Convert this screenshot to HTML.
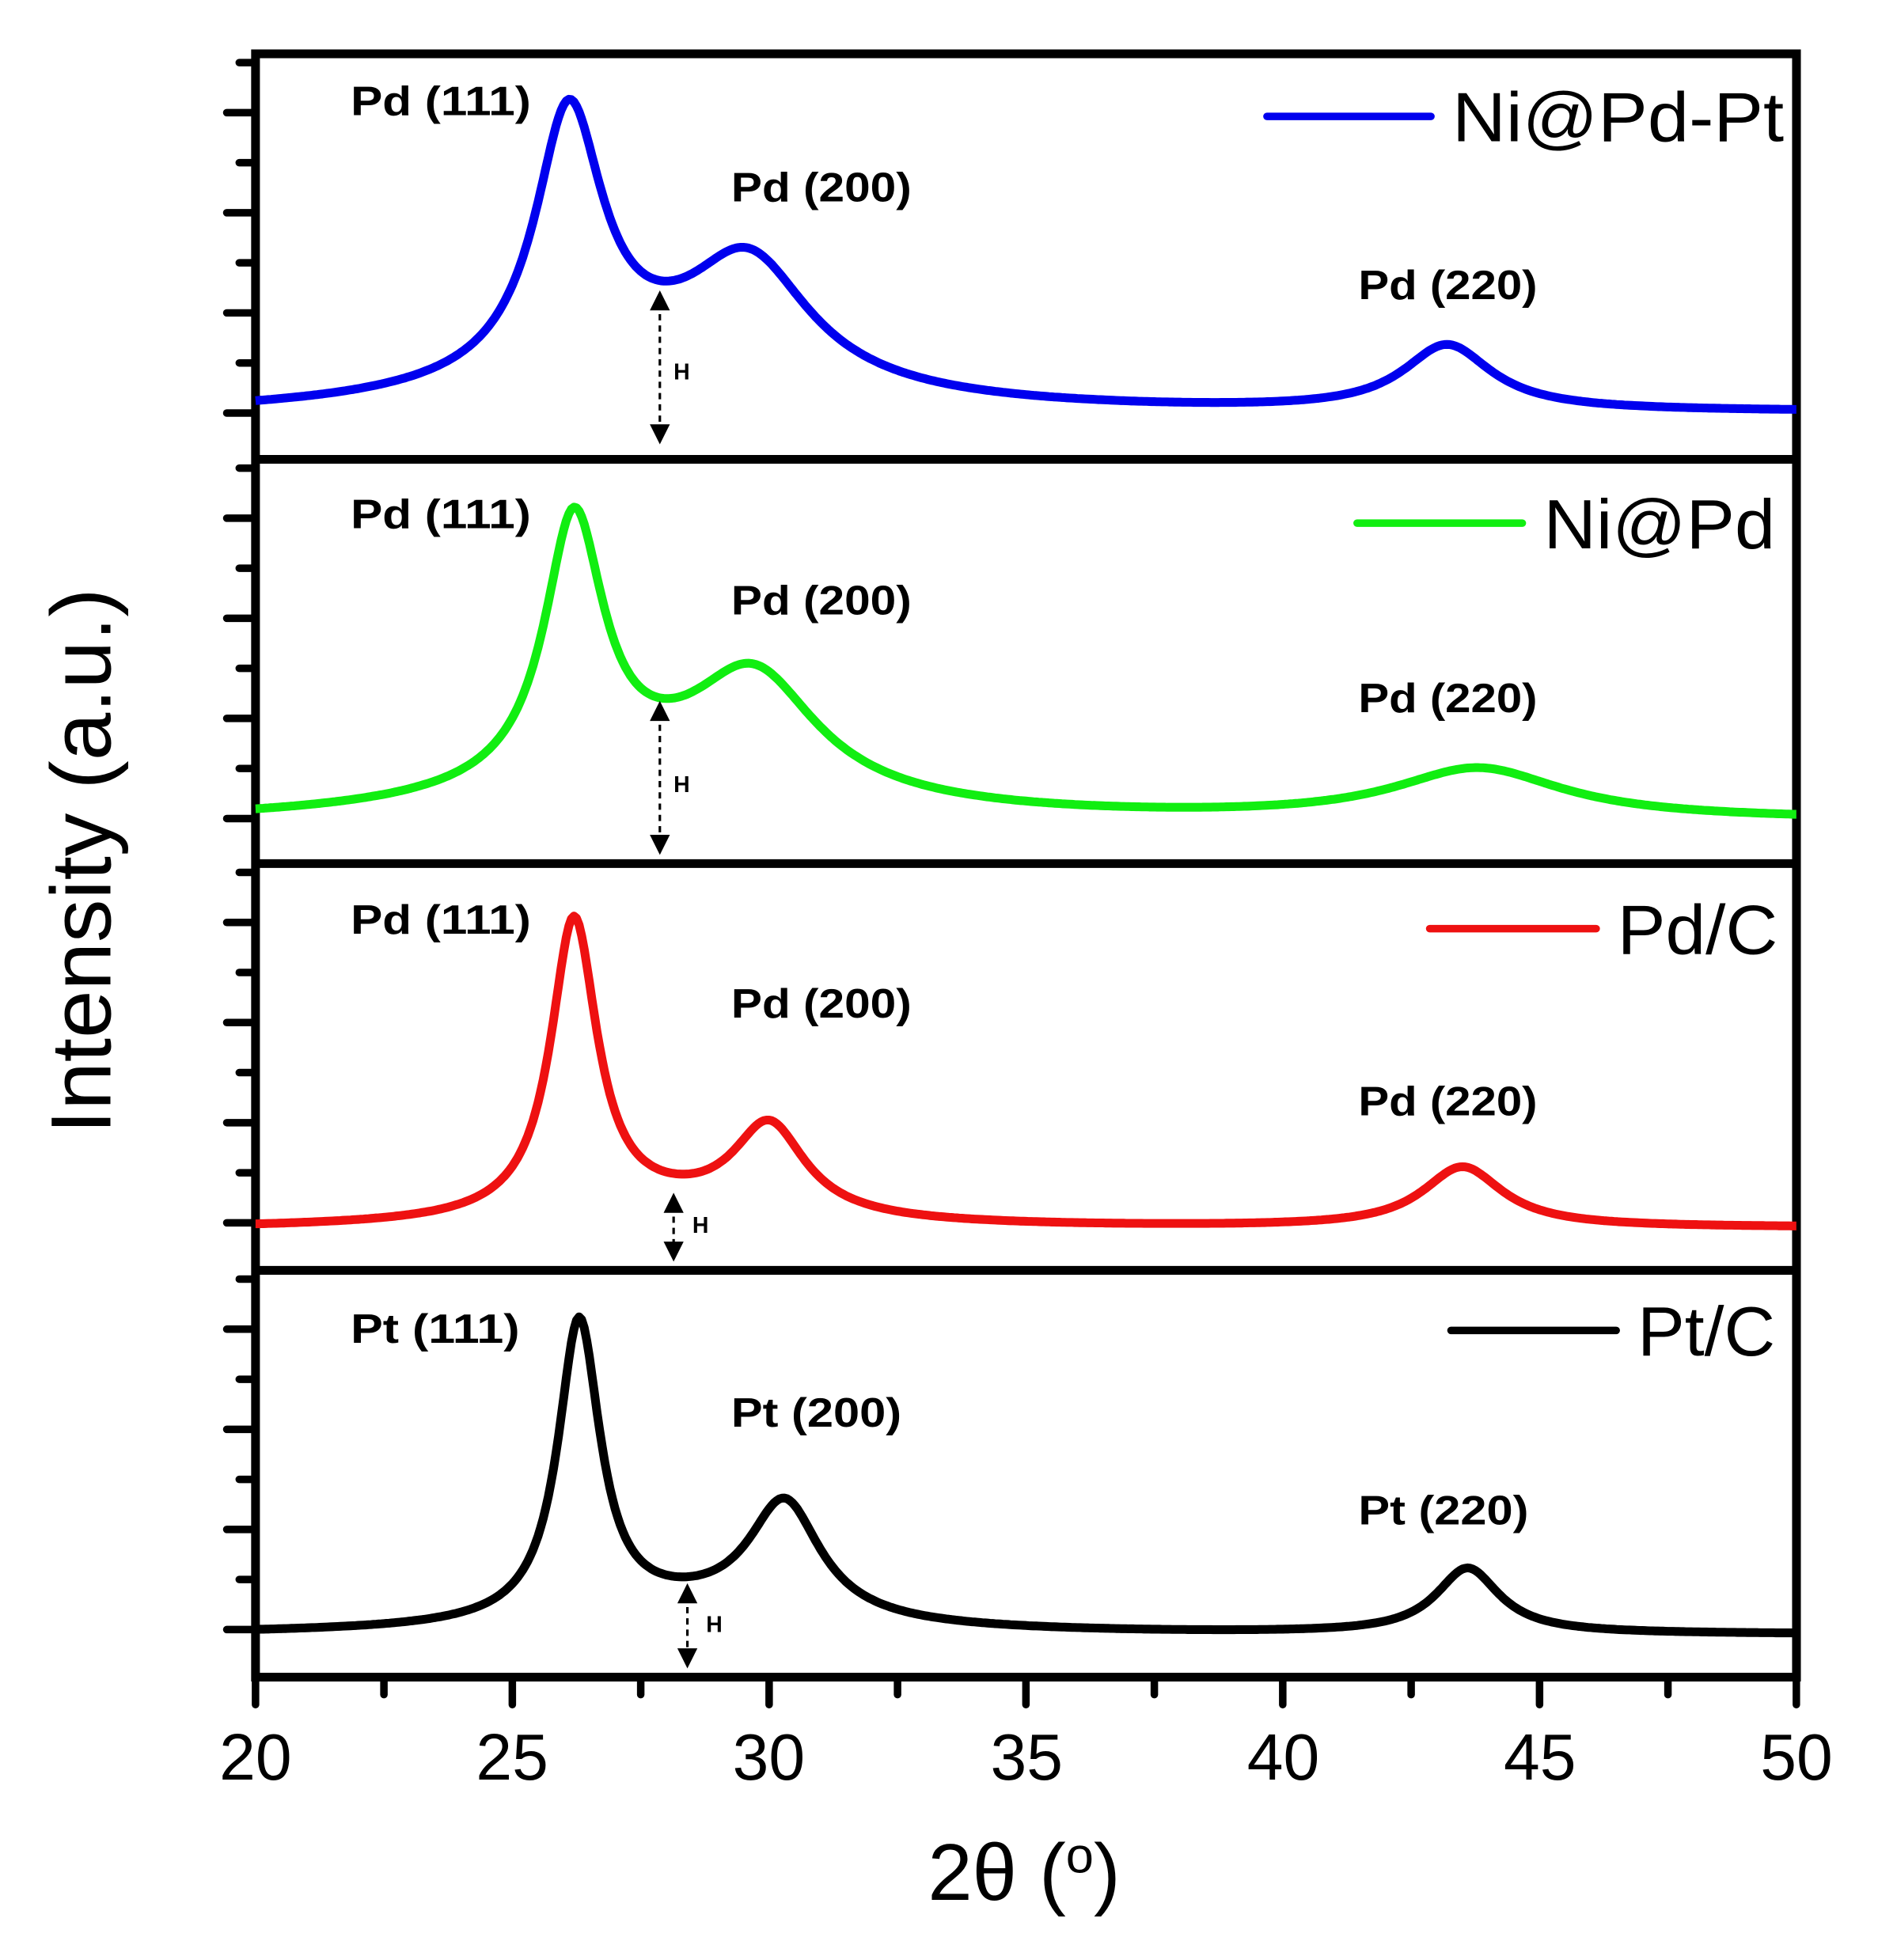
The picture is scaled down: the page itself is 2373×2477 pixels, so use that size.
<!DOCTYPE html>
<html><head><meta charset="utf-8"><style>
html,body{margin:0;padding:0;background:#fff;}
svg{display:block;}
</style></head><body>
<svg id="s" width="2373" height="2477" viewBox="0 0 1500 1566" xmlns="http://www.w3.org/2000/svg">
<rect width="1500" height="1566" fill="#fff"/>
<g id="frames" fill="none" stroke="#000" stroke-width="7">
<rect x="204" y="43" width="1231" height="1297"/>
<line x1="204" y1="367" x2="1435" y2="367"/>
<line x1="204" y1="690" x2="1435" y2="690"/>
<line x1="204" y1="1015" x2="1435" y2="1015"/>
</g>
<g id="ticks" stroke="#000" stroke-width="6" stroke-linecap="round"></g>
<g id="curves" fill="none" stroke-width="7" stroke-linejoin="round"></g>
<g font-family="'Liberation Sans','DejaVu Sans',sans-serif" font-weight="bold" font-size="33" fill="#000">
<text x="280" y="92" textLength="144" lengthAdjust="spacingAndGlyphs">Pd (111)</text>
<text x="584" y="161" textLength="144" lengthAdjust="spacingAndGlyphs">Pd (200)</text>
<text x="1085" y="239" textLength="143" lengthAdjust="spacingAndGlyphs">Pd (220)</text>
<text x="280" y="422" textLength="144" lengthAdjust="spacingAndGlyphs">Pd (111)</text>
<text x="584" y="491" textLength="144" lengthAdjust="spacingAndGlyphs">Pd (200)</text>
<text x="1085" y="569" textLength="143" lengthAdjust="spacingAndGlyphs">Pd (220)</text>
<text x="280" y="746" textLength="144" lengthAdjust="spacingAndGlyphs">Pd (111)</text>
<text x="584" y="813" textLength="144" lengthAdjust="spacingAndGlyphs">Pd (200)</text>
<text x="1085" y="891" textLength="143" lengthAdjust="spacingAndGlyphs">Pd (220)</text>
<text x="280" y="1073" textLength="135" lengthAdjust="spacingAndGlyphs">Pt (111)</text>
<text x="584" y="1140" textLength="136" lengthAdjust="spacingAndGlyphs">Pt (200)</text>
<text x="1085" y="1218" textLength="136" lengthAdjust="spacingAndGlyphs">Pt (220)</text>
<g font-size="18"><text x="538" y="303">H</text><text x="538" y="633">H</text><text x="553" y="985">H</text><text x="564" y="1304">H</text></g>
</g>
<g stroke-width="6" stroke-linecap="round">
<line x1="1012" y1="93" x2="1143" y2="93" stroke="#0000ee"/>
<line x1="1084" y1="418" x2="1216" y2="418" stroke="#11ee11"/>
<line x1="1142" y1="742" x2="1275" y2="742" stroke="#ee1111"/>
<line x1="1159" y1="1063" x2="1291" y2="1063" stroke="#000"/>
</g>
<g font-family="'Liberation Sans',sans-serif" font-size="56" fill="#000">
<text x="1160" y="113" textLength="265" lengthAdjust="spacingAndGlyphs">Ni@Pd-Pt</text>
<text x="1233" y="438" textLength="185" lengthAdjust="spacingAndGlyphs">Ni@Pd</text>
<text x="1292" y="762" textLength="128" lengthAdjust="spacingAndGlyphs">Pd/C</text>
<text x="1308" y="1083" textLength="110" lengthAdjust="spacingAndGlyphs">Pt/C</text>
</g>
<g id="arrows" stroke="#000" stroke-width="2" stroke-dasharray="5,4" fill="#000"></g>
<g font-family="'Liberation Sans',sans-serif" font-size="52" fill="#000" text-anchor="middle">
<text x="204" y="1422">20</text><text x="409" y="1422">25</text><text x="614" y="1422">30</text>
<text x="820" y="1422">35</text><text x="1025" y="1422">40</text><text x="1230" y="1422">45</text><text x="1435" y="1422">50</text>
<text x="818" y="1518" font-size="64">2θ (<tspan font-size="40" dy="-22">o</tspan><tspan dy="22">)</tspan></text>
<text transform="translate(88,688) rotate(-90)" font-size="68" textLength="436" lengthAdjust="spacingAndGlyphs">Intensity (a.u.)</text>
</g>
</svg>
<script>
var NS="http://www.w3.org/2000/svg";
function X(t){return 204+(t-20)*41.03;}
function el(p,n,a){var e=document.createElementNS(NS,n);for(var k in a)e.setAttribute(k,a[k]);document.getElementById(p).appendChild(e);return e;}
var tops=[43,367,690,1015];
for(var i=0;i<4;i++){var b=tops[i]+287;for(var j=0;j<8;j++){var y=b-j*40;if(y<tops[i]+2)break;var maj=(j%2==0);el("ticks","line",{x1:maj?181:191,y1:y,x2:204,y2:y});}}
for(var t=20;t<=50;t+=2.5){var maj=(t%5==0);el("ticks","line",{x1:X(t),y1:1340,x2:X(t),y2:maj?1362:1354});}
var P=[
{c:"#0000ee",b0:333,b1:330,pk:[[26.1,210,0.8],[29.6,98,1.45],[43.2,52,1.05],[27.5,32,4]]},
{c:"#11ee11",b0:658,b1:656,pk:[[26.2,210,0.7],[29.7,95,1.5],[43.8,40,2.0],[27.5,30,4]]},
{c:"#ee1111",b0:982,b1:981,pk:[[26.2,236,0.55],[30.0,72,0.85],[43.5,48,0.95],[28,14,3]]},
{c:"#000",b0:1306,b1:1306,pk:[[26.3,238,0.5],[30.3,92,0.85],[43.6,52,0.75],[28.5,18,3]]}
];
P.forEach(function(s){var d="";for(var t=20;t<=50.001;t+=0.05){var y=s.b0+(s.b1-s.b0)*(t-20)/30;s.pk.forEach(function(p){var u=(t-p[0])/p[2];y-=p[1]/(1+u*u);});d+=(d?"L":"M")+X(t).toFixed(1)+","+y.toFixed(1);}el("curves","path",{d:d,stroke:s.c});});
[[527,232,355],[527,560,683],[538,953,1008],[549,1265,1333]].forEach(function(a){
el("arrows","line",{x1:a[0],y1:a[1]+10,x2:a[0],y2:a[2]-10});
el("arrows","polygon",{points:(a[0]-8)+","+(a[1]+16)+" "+(a[0]+8)+","+(a[1]+16)+" "+a[0]+","+a[1],stroke:"none"});
el("arrows","polygon",{points:(a[0]-8)+","+(a[2]-16)+" "+(a[0]+8)+","+(a[2]-16)+" "+a[0]+","+a[2],stroke:"none"});
});
</script>
</body></html>
